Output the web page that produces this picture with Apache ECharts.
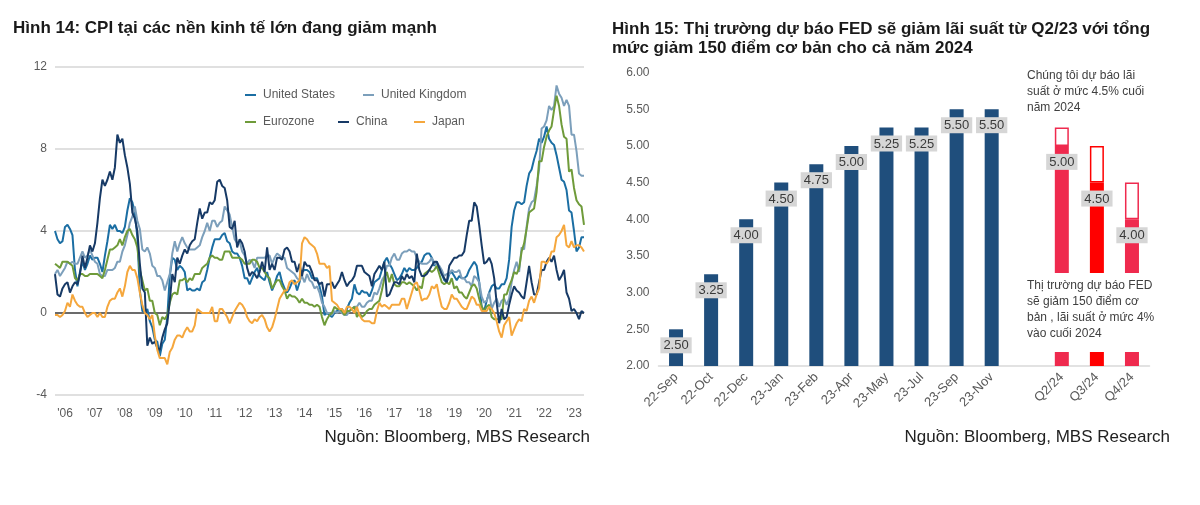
<!DOCTYPE html>
<html>
<head>
<meta charset="utf-8">
<script src="https://cdn.jsdelivr.net/npm/echarts@6/dist/echarts.min.js"></script>
<style>
html,body{margin:0;padding:0;background:#fff;}
#c{width:1200px;height:505px;}
</style>
</head>
<body>
<div id="c"></div>
<script>
// ---------- Left chart data (monthly, Jan 2006 - Sep 2023, % YoY) ----------
const startYear = 2006;
const usCPI = [
4.0,3.6,3.4,3.5,4.2,4.3,4.1,3.8,2.1,1.3,2.0,2.5,
2.1,2.4,2.8,2.6,2.7,2.7,2.4,2.0,2.8,3.5,4.3,4.1,
4.3,4.0,4.0,3.9,4.2,5.0,5.6,5.4,4.9,3.7,1.1,0.1,
0.0,0.2,-0.4,-0.7,-1.3,-1.4,-2.1,-1.5,-1.3,-0.2,1.8,2.7,
2.6,2.1,2.3,2.2,2.0,1.1,1.2,1.1,1.1,1.2,1.1,1.5,
1.6,2.1,2.7,3.2,3.6,3.6,3.6,3.8,3.9,3.5,3.4,3.0,
2.9,2.9,2.7,2.3,1.7,1.7,1.4,1.7,2.0,2.2,1.8,1.7,
1.6,2.0,1.5,1.1,1.4,1.8,2.0,1.5,1.2,1.0,1.2,1.5,
1.6,1.1,1.5,2.0,2.1,2.1,2.0,1.7,1.7,1.7,1.3,0.8,
-0.1,0.0,-0.1,-0.2,0.0,0.1,0.2,0.2,0.0,0.2,0.5,0.7,
1.4,1.0,0.9,1.1,1.0,1.0,0.8,1.1,1.5,1.6,1.7,2.1,
2.5,2.7,2.4,2.2,1.9,1.6,1.7,1.9,2.2,2.0,2.2,2.1,
2.1,2.2,2.4,2.5,2.8,2.9,2.9,2.7,2.3,2.5,2.2,1.9,
1.6,1.5,1.9,2.0,1.8,1.6,1.8,1.7,1.7,1.8,2.1,2.3,
2.5,2.3,1.5,0.3,0.1,0.6,1.0,1.3,1.4,1.2,1.2,1.4,
1.4,1.7,2.6,4.2,5.0,5.4,5.4,5.3,5.4,6.2,6.8,7.0,
7.5,7.9,8.5,8.3,8.6,9.1,8.5,8.3,8.2,7.7,7.1,6.5,
6.4,6.0,5.0,4.9,4.0,3.0,3.2,3.7,3.7];
const ukCPI = [
1.9,2.1,1.8,2.0,2.2,2.5,2.4,2.5,2.4,2.4,2.7,3.0,
2.7,2.8,3.1,2.8,2.5,2.4,1.9,1.8,1.8,2.1,2.1,2.1,
2.2,2.5,2.5,3.0,3.3,3.8,4.4,4.7,5.2,4.5,4.1,3.1,
3.0,3.2,2.9,2.3,2.2,1.8,1.8,1.6,1.1,1.5,1.9,2.9,
3.5,3.0,3.4,3.7,3.4,3.2,3.1,3.1,3.1,3.2,3.3,3.7,
4.0,4.4,4.0,4.5,4.5,4.2,4.4,4.5,5.2,5.0,4.8,4.2,
3.6,3.4,3.5,3.0,2.8,2.4,2.6,2.5,2.2,2.7,2.7,2.7,
2.7,2.8,2.8,2.4,2.7,2.9,2.8,2.7,2.7,2.2,2.1,2.0,
1.9,1.7,1.6,1.8,1.5,1.9,1.6,1.5,1.2,1.3,1.0,0.5,
0.3,0.0,0.0,-0.1,0.1,0.0,0.1,0.0,-0.1,-0.1,0.1,0.2,
0.3,0.3,0.5,0.3,0.3,0.5,0.6,0.6,1.0,0.9,1.2,1.6,
1.8,2.3,2.3,2.7,2.9,2.6,2.6,2.9,3.0,3.0,3.1,3.0,
3.0,2.7,2.5,2.4,2.4,2.4,2.5,2.7,2.4,2.4,2.3,2.1,
1.8,1.9,1.9,2.1,2.0,2.0,2.1,1.7,1.7,1.5,1.5,1.3,
1.8,1.7,1.5,0.8,0.5,0.6,1.0,0.2,0.5,0.7,0.3,0.6,
0.7,0.4,0.7,1.5,2.1,2.5,2.0,3.2,3.1,4.2,5.1,5.4,
5.5,6.2,7.0,9.0,9.1,9.4,10.1,9.9,10.1,11.1,10.7,10.5,
10.1,10.4,10.1,8.7,8.7,7.9,6.8,6.7,6.7];
const ezCPI = [
2.4,2.3,2.2,2.5,2.5,2.5,2.4,2.3,1.7,1.6,1.9,1.9,
1.8,1.8,1.9,1.9,1.9,1.9,1.8,1.7,2.1,2.6,3.1,3.1,
3.2,3.3,3.6,3.3,3.7,4.0,4.1,3.8,3.6,3.2,2.1,1.6,
1.1,1.2,0.6,0.6,0.0,-0.1,-0.6,-0.2,-0.3,-0.1,0.5,0.9,
1.0,0.9,1.6,1.6,1.7,1.5,1.7,1.6,1.9,1.9,1.9,2.2,
2.3,2.4,2.7,2.8,2.7,2.7,2.6,2.6,3.0,3.0,3.0,2.7,
2.7,2.7,2.7,2.6,2.4,2.4,2.4,2.6,2.6,2.5,2.2,2.2,
2.0,1.8,1.7,1.2,1.4,1.6,1.6,1.3,1.1,0.7,0.9,0.8,
0.8,0.7,0.5,0.7,0.5,0.5,0.4,0.4,0.3,0.4,0.3,-0.2,
-0.6,-0.3,-0.1,0.0,0.3,0.2,0.2,0.1,-0.1,0.1,0.1,0.2,
0.3,-0.2,0.0,-0.2,-0.1,0.1,0.2,0.2,0.4,0.5,0.6,1.1,
1.7,2.0,1.5,1.9,1.4,1.3,1.3,1.5,1.5,1.4,1.5,1.4,
1.3,1.1,1.3,1.2,1.9,2.0,2.1,2.0,2.1,2.3,1.9,1.5,
1.4,1.5,1.4,1.7,1.2,1.3,1.0,1.0,0.8,0.7,1.0,1.3,
1.4,1.2,0.7,0.3,0.1,0.3,0.4,-0.2,-0.3,-0.3,-0.3,-0.3,
0.9,0.9,1.3,1.6,2.0,1.9,2.2,3.0,3.4,4.1,4.9,5.0,
5.1,5.9,7.4,7.4,8.1,8.6,8.9,9.1,9.9,10.6,10.1,9.2,
8.6,8.5,6.9,7.0,6.1,5.5,5.3,5.2,4.3];
const cnCPI = [
1.9,0.9,0.8,1.2,1.4,1.5,1.0,1.3,1.5,1.4,1.9,2.8,
2.2,2.7,3.3,3.0,3.4,4.4,5.6,6.5,6.2,6.5,6.9,6.5,
7.1,8.7,8.3,8.5,7.7,7.1,6.3,4.9,4.6,4.0,2.4,1.2,
1.0,-1.6,-1.2,-1.5,-1.4,-1.7,-1.8,-1.2,-0.8,-0.5,0.6,1.9,
1.5,2.7,2.4,2.8,3.1,2.9,3.3,3.5,3.6,4.4,5.1,4.6,
4.9,4.9,5.4,5.3,5.5,6.4,6.5,6.2,6.1,5.5,4.2,4.1,
4.5,3.2,3.6,3.4,3.0,2.2,1.8,2.0,1.9,1.7,2.0,2.5,
2.0,3.2,2.1,2.4,2.1,2.7,2.7,2.6,3.1,3.2,3.0,2.5,
2.5,2.0,2.4,1.8,2.5,2.3,2.3,2.0,1.6,1.6,1.4,1.5,
0.8,1.4,1.4,1.5,1.2,1.4,1.6,2.0,1.6,1.3,1.5,1.6,
1.8,2.3,2.3,2.3,2.0,1.9,1.8,1.3,1.9,2.1,2.3,2.1,
2.5,0.8,0.9,1.2,1.5,1.5,1.4,1.8,1.6,1.9,1.7,1.8,
1.5,2.9,2.1,1.8,1.8,1.9,2.1,2.3,2.5,2.5,2.2,1.9,
1.7,1.5,2.3,2.5,2.7,2.7,2.8,2.8,3.0,3.8,4.5,4.5,
5.4,5.2,4.3,3.3,2.4,2.5,2.7,2.4,1.7,0.5,-0.5,0.2,
-0.3,-0.2,0.4,0.9,1.3,1.1,1.0,0.8,0.7,1.5,2.3,1.5,
0.9,0.9,1.5,2.1,2.1,2.5,2.7,2.5,2.8,2.1,1.6,1.8,
2.1,1.0,0.7,0.1,0.2,0.0,-0.3,0.1,0.0];
const jpCPI = [
-0.1,-0.1,-0.2,-0.1,0.1,0.5,0.3,0.9,0.6,0.4,0.3,0.3,
0.0,-0.2,-0.1,0.0,0.0,-0.2,0.0,-0.2,-0.2,0.3,0.6,0.7,
0.7,1.0,1.2,0.8,1.3,2.0,2.3,2.1,2.1,1.7,1.0,0.4,
0.0,-0.1,-0.3,-0.1,-1.1,-1.8,-2.2,-2.2,-2.2,-2.5,-1.9,-1.7,
-1.3,-1.1,-1.1,-1.2,-0.9,-0.7,-0.9,-0.9,-0.6,0.2,0.1,0.0,
0.0,0.0,0.0,0.3,-0.4,-0.4,0.2,0.2,0.0,-0.2,-0.5,-0.2,
0.1,0.3,0.5,0.4,0.2,-0.2,-0.4,-0.5,-0.3,-0.4,-0.2,-0.1,
-0.3,-0.7,-0.9,-0.7,-0.3,0.2,0.7,0.9,1.1,1.1,1.5,1.6,
1.4,1.5,1.6,3.4,3.7,3.6,3.4,3.3,3.2,2.9,2.4,2.4,
2.4,2.2,2.3,0.6,0.5,0.4,0.2,0.2,0.0,0.3,0.3,0.2,
0.0,0.3,-0.1,-0.3,-0.4,-0.4,-0.4,-0.5,-0.5,0.1,0.5,0.3,
0.4,0.3,0.2,0.4,0.4,0.4,0.4,0.7,0.7,0.2,0.6,1.0,
1.4,1.5,1.1,0.6,0.7,0.7,0.9,1.3,1.2,1.4,0.8,0.3,
0.2,0.2,0.5,0.9,0.7,0.7,0.5,0.3,0.2,0.2,0.5,0.8,
0.7,0.4,0.4,0.1,0.1,0.1,0.3,0.2,0.0,-0.4,-0.9,-1.2,
-0.6,-0.4,-0.2,-1.1,-0.8,-0.5,-0.3,-0.4,0.2,0.1,0.6,0.8,
0.5,0.9,1.2,2.5,2.5,2.4,2.6,3.0,3.0,3.7,3.8,4.0,
4.3,3.3,3.2,3.5,3.2,3.3,3.3,3.2,3.0];
const seriesNames = ['United States','United Kingdom','Eurozone','China','Japan'];
const seriesColors = ['#1b6ea3','#7c9fbb','#6f9b3a','#173a66','#f5a73d'];

// ---------- Right chart data ----------
const rateCats = ['22-Sep','22-Oct','22-Dec','23-Jan','23-Feb','23-Apr','23-May','23-Jul','23-Sep','23-Nov','','Q2/24','Q3/24','Q4/24'];
const rateValues = [2.50,3.25,4.00,4.50,4.75,5.00,5.25,5.25,5.50,5.50,null,5.00,4.50,4.00];
const ourForecast = [null,null,null,null,null,null,null,null,null,null,null,5.25,5.00,4.50];

// ---------- Build ----------
const months = [];
for (let i = 0; i < usCPI.length; i++) {
  const y = startYear + Math.floor(i / 12), m = i % 12 + 1;
  months.push(y + '-' + (m < 10 ? '0' + m : m));
}
const cpiData = [usCPI, ukCPI, ezCPI, cnCPI, jpCPI];
const FONT = 'Liberation Sans, Arial, sans-serif';

const barColors = ['#1f4e7c','#1f4e7c','#1f4e7c','#1f4e7c','#1f4e7c','#1f4e7c','#1f4e7c','#1f4e7c','#1f4e7c','#1f4e7c','#1f4e7c','#ef2a4e','#ff0000','#ef2a4e'];
const extra = ourForecast.map((v, i) => v == null ? null : +(v - rateValues[i]).toFixed(2));

const legendPos = [[240, 84], [358, 84], [240, 111], [333, 111], [409, 111]];

const chart = echarts.init(document.getElementById('c'), null, {renderer: 'canvas'});
chart.setOption({
  animation: false,
  backgroundColor: '#ffffff',
  textStyle: {fontFamily: FONT},
  grid: [
    {left: 55, top: 67, width: 529, height: 328},
    {left: 658.5, top: 72.5, width: 491, height: 293.5}
  ],
  legend: seriesNames.map((n, i) => ({
    data: [n], left: legendPos[i][0], top: legendPos[i][1],
    icon: 'rect', itemWidth: 11, itemHeight: 2, selectedMode: false,
    textStyle: {color: '#5a5a5a', fontSize: 12, fontFamily: FONT, padding: [0, 0, 0, 2]}
  })),
  xAxis: [
    {
      gridIndex: 0, type: 'category', data: months, boundaryGap: false,
      axisLine: {show: false}, axisTick: {show: false},
      splitLine: {show: false},
      axisLabel: {
        interval: (idx) => idx % 12 === 4,
        formatter: (v) => "'" + v.slice(2, 4),
        color: '#5a5a5a', fontSize: 12, margin: 13, fontFamily: FONT
      }
    },
    {
      gridIndex: 1, type: 'category', data: rateCats,
      axisLine: {show: true, lineStyle: {color: '#d9d9d9', width: 1.5}},
      axisTick: {show: false},
      axisLabel: {rotate: 45, color: '#5a5a5a', fontSize: 13, margin: 9, interval: 0, fontFamily: FONT}
    }
  ],
  yAxis: [
    {
      gridIndex: 0, type: 'value', min: -4, max: 12, interval: 4,
      axisLine: {show: false}, axisTick: {show: false},
      axisLabel: {color: '#5a5a5a', fontSize: 12, margin: 8, fontFamily: FONT},
      splitLine: {show: true, lineStyle: {color: ['#d6d6d6', '#3a3a3a', '#d6d6d6', '#d6d6d6', '#d6d6d6'], width: 1.5}}
    },
    {
      gridIndex: 1, type: 'value', min: 2, max: 6, interval: 0.5,
      axisLine: {show: false}, axisTick: {show: false},
      axisLabel: {color: '#5a5a5a', fontSize: 12, margin: 9, formatter: (v) => v.toFixed(2), fontFamily: FONT},
      splitLine: {show: false}
    }
  ],
  series: cpiData.map((d, i) => ({
    name: seriesNames[i], type: 'line', xAxisIndex: 0, yAxisIndex: 0,
    data: d, symbol: 'none', smooth: false,
    lineStyle: {width: 2, color: seriesColors[i]}, itemStyle: {color: seriesColors[i]}
  })).concat([
    {
      name: 'rate', type: 'bar', xAxisIndex: 1, yAxisIndex: 1, stack: 'r', barWidth: 14,
      data: rateValues.map((v, i) => ({value: v, itemStyle: {color: barColors[i]}})),
      label: {
        show: true, position: 'insideTop', distance: 8,
        formatter: (p) => p.value == null ? '' : p.value.toFixed(2),
        color: '#3a3a3a', fontSize: 13, fontFamily: FONT,
        backgroundColor: '#d6d6d6', padding: [2, 3, 1, 3]
      }
    },
    {
      name: 'forecast', type: 'bar', xAxisIndex: 1, yAxisIndex: 1, stack: 'r', barWidth: 14,
      data: extra.map((v, i) => ({value: v, itemStyle: {color: '#ffffff', borderColor: barColors[i], borderWidth: 1.5}}))
    }
  ]),
  graphic: [
    {type: 'text', left: 13, top: 20, z: 100, style: {text: 'Hình 14: CPI tại các nền kinh tế lớn đang giảm mạnh', fill: '#1a1a1a', font: 'bold 17px ' + FONT}},
    {type: 'text', left: 612, top: 20, z: 100, style: {text: 'Hình 15: Thị trường dự báo FED sẽ giảm lãi suất từ Q2/23 với tổng\nmức giảm 150 điểm cơ bản cho cả năm 2024', fill: '#1a1a1a', font: 'bold 17px ' + FONT, lineHeight: 19}},
    {type: 'text', right: 610, top: 429, z: 100, style: {text: 'Nguồn: Bloomberg, MBS Research', fill: '#222222', font: '17px ' + FONT}},
    {type: 'text', right: 30, top: 429, z: 100, style: {text: 'Nguồn: Bloomberg, MBS Research', fill: '#222222', font: '17px ' + FONT}},
    {type: 'text', left: 1027, top: 68, z: 100, style: {text: 'Chúng tôi dự báo lãi\nsuất ở mức 4.5% cuối\nnăm 2024', fill: '#404040', font: '12px ' + FONT, lineHeight: 16}},
    {type: 'rect', left: 1022, top: 273, z: 99, shape: {width: 145, height: 79}, style: {fill: '#ffffff'}},
    {type: 'text', left: 1027, top: 278, z: 100, style: {text: 'Thị trường dự báo FED\nsẽ giảm 150 điểm cơ\nbản , lãi suất ở mức 4%\nvào cuối 2024', fill: '#404040', font: '12px ' + FONT, lineHeight: 16}}
  ]
});
</script>
</body>
</html>
